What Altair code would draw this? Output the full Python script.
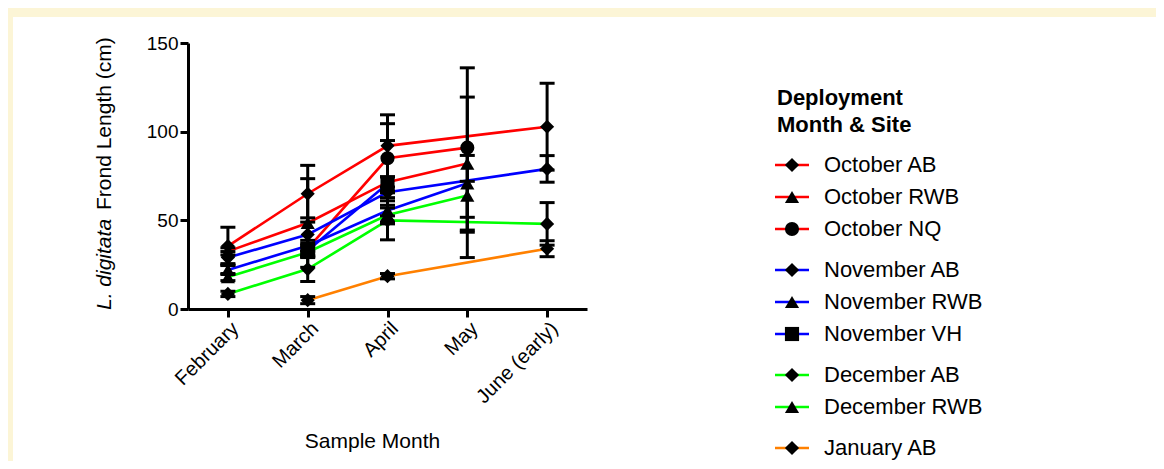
import altair as alt
import pandas as pd

months = ["February", "March", "April", "May", "June (early)"]

series_names = ["October AB", "October RWB", "October NQ",
                "November AB", "November RWB", "November VH",
                "December AB", "December RWB", "January AB"]
series_colors = ["#FF0000", "#FF0000", "#FF0000",
                 "#0000FF", "#0000FF", "#0000FF",
                 "#00FF00", "#00FF00", "#FF8000"]
series_shapes = ["diamond", "triangle-up", "circle",
                 "diamond", "triangle-up", "square",
                 "diamond", "triangle-up", "diamond"]
series_groups = [0, 0, 0, 1, 1, 1, 2, 2, 3]

means = {
    "October AB":   [35.5, 65.0, 92.0, None, 102.8],
    "October RWB":  [32.5, 48.5, 71.5, 82.0, None],
    "October NQ":   [None, 34.0, 85.0, 91.0, None],
    "November AB":  [29.0, 42.0, 65.8, None, 79.0],
    "November RWB": [22.0, 35.7, 55.5, 70.9, None],
    "November VH":  [None, 33.0, 70.6, None, None],
    "December AB":  [8.5, 22.5, 50.0, None, 48.0],
    "December RWB": [18.0, 32.0, 53.0, 64.0, None],
    "January AB":   [None, 5.0, 18.5, None, 34.0],
}
err_up = {
    "October AB":   [10.6, 16.0, 17.5, None, 24.5],
    "October RWB":  [2.0, 25.0, 23.5, 37.5, None],
    "October NQ":   [None, 3.0, 19.5, 45.0, None],
    "November AB":  [3.4, 9.4, 3.0, None, 7.5],
    "November RWB": [2.5, 3.0, 3.0, 15.7, None],
    "November VH":  [None, 3.0, 4.0, None, None],
    "December AB":  [1.5, 7.0, 11.0, None, 12.0],
    "December RWB": [2.0, 3.0, 4.0, 8.0, None],
    "January AB":   [None, 2.0, 1.5, None, 4.5],
}
err_dn = {
    "October AB":   [10.6, 16.0, 17.5, None, 24.5],
    "October RWB":  [2.0, 25.0, 23.5, 37.5, None],
    "October NQ":   [None, 3.0, 19.5, 47.7, None],
    "November AB":  [3.4, 9.4, 3.0, None, 7.5],
    "November RWB": [2.5, 3.0, 3.0, 19.2, None],
    "November VH":  [None, 3.0, 4.0, None, None],
    "December AB":  [1.5, 7.0, 11.0, None, 12.0],
    "December RWB": [2.0, 3.0, 4.0, 35.0, None],
    "January AB":   [None, 2.0, 1.5, None, 4.5],
}

FONT = "Liberation Sans"

rows = []
for name, col, shp in zip(series_names, series_colors, series_shapes):
    for mi, (m, v, u, d) in enumerate(zip(months, means[name], err_up[name], err_dn[name])):
        if v is None:
            continue
        rows.append(dict(series=name, month=m, mi=mi, value=v,
                         lo=v - d, hi=v + u, color=col, shape=shp))
df = pd.DataFrame(rows)

leg_rows = []
for i, (name, col, shp, g) in enumerate(zip(series_names, series_colors, series_shapes, series_groups)):
    leg_rows.append(dict(label=name, color=col, shape=shp, ly=122 + i * 32 + g * 9))
leg = pd.DataFrame(leg_rows)

W, H = 399, 266

xaxis = alt.Axis(title="Sample Month", labelAngle=-45, labelFontSize=20, labelFont=FONT,
                 labelColor="black", titleFontSize=21, titleFont=FONT, titleFontWeight="normal",
                 titleColor="black", titleX=184, titleY=132, titleBaseline="middle",
                 domainColor="black", domainWidth=3, tickColor="black", tickWidth=3,
                 tickSize=8, labelPadding=1, grid=False, zindex=2)
yaxis = alt.Axis(title=None, values=[0, 50, 100, 150], labelFontSize=19, labelFont=FONT,
                 labelColor="black", domainColor="black", domainWidth=3, tickColor="black",
                 tickWidth=3, tickSize=8, labelPadding=2, grid=False, zindex=2)

xs = alt.Scale(type="point", domain=months, padding=0.5)
ys = alt.Scale(domain=[0, 150], nice=False, zero=False)

X = alt.X("month:N", sort=months, scale=xs, axis=xaxis)

base = alt.Chart(df)

bg = alt.Chart(pd.DataFrame({"a": [0]})).mark_rect(color="white").encode(
    x=alt.value(-175), x2=alt.value(1000), y=alt.value(-26), y2=alt.value(500))

lines = base.mark_line(strokeWidth=2.6).encode(
    x=X,
    y=alt.Y("value:Q", scale=ys, axis=yaxis),
    color=alt.Color("color:N", scale=None),
    detail="series:N",
    order=alt.Order("mi:Q"),
)

bars = base.mark_rule(color="black", strokeWidth=3).encode(
    x=X, y=alt.Y("lo:Q", scale=ys, axis=yaxis), y2="hi:Q")
cap_hi = base.mark_tick(color="black", thickness=3, size=15, orient="horizontal", opacity=1).encode(
    x=X, y=alt.Y("hi:Q", scale=ys, axis=yaxis))
cap_lo = base.mark_tick(color="black", thickness=3, size=15, orient="horizontal", opacity=1).encode(
    x=X, y=alt.Y("lo:Q", scale=ys, axis=yaxis))

pts = base.mark_point(filled=True, opacity=1, size=200, color="black").encode(
    x=X, y=alt.Y("value:Q", scale=ys, axis=yaxis),
    shape=alt.Shape("shape:N", scale=None),
)

one = pd.DataFrame({"a": [0]})
ytitle_it = alt.Chart(one).mark_text(text="L. digitata", angle=270, align="left", baseline="middle",
                                     fontSize=21, font=FONT, fontStyle="italic", color="black").encode(
    x=alt.value(-83), y=alt.value(267))
ytitle_rest = alt.Chart(one).mark_text(text="Frond Length (cm)", angle=270, align="left", baseline="middle",
                                       fontSize=21, font=FONT, color="black").encode(
    x=alt.value(-83), y=alt.value(167))

legc = alt.Chart(leg)
leg_title1 = alt.Chart(one).mark_text(text="Deployment", align="left", baseline="middle",
                                      fontSize=22, font=FONT, fontWeight="bold", color="black").encode(
    x=alt.value(589), y=alt.value(55))
leg_title2 = alt.Chart(one).mark_text(text="Month & Site", align="left", baseline="middle",
                                      fontSize=22, font=FONT, fontWeight="bold", color="black").encode(
    x=alt.value(589), y=alt.value(82))
leg_lines = legc.mark_rule(strokeWidth=2.6).encode(
    x=alt.value(587), x2=alt.value(621), y=alt.Y("ly:Q", scale=None),
    color=alt.Color("color:N", scale=None))
leg_pts = legc.mark_point(filled=True, opacity=1, size=200, color="black").encode(
    x=alt.value(604), y=alt.Y("ly:Q", scale=None), shape=alt.Shape("shape:N", scale=None))
leg_txt = legc.mark_text(align="left", baseline="middle", fontSize=22, font=FONT, color="black").encode(
    x=alt.value(636), y=alt.Y("ly:Q", scale=None), text="label:N")

chart = alt.layer(
    bg, lines, bars, cap_hi, cap_lo, pts,
    ytitle_it, ytitle_rest, leg_title1, leg_title2, leg_lines, leg_pts, leg_txt
).properties(
    width=W, height=H,
    autosize=alt.AutoSizeParams(type="none"),
    padding={"left": 180, "top": 35, "right": 569, "bottom": 152},
    background="#FCF5D6",
).configure_view(stroke=None)

chart.save("out.html", embed_options={"renderer": "svg", "actions": False})
